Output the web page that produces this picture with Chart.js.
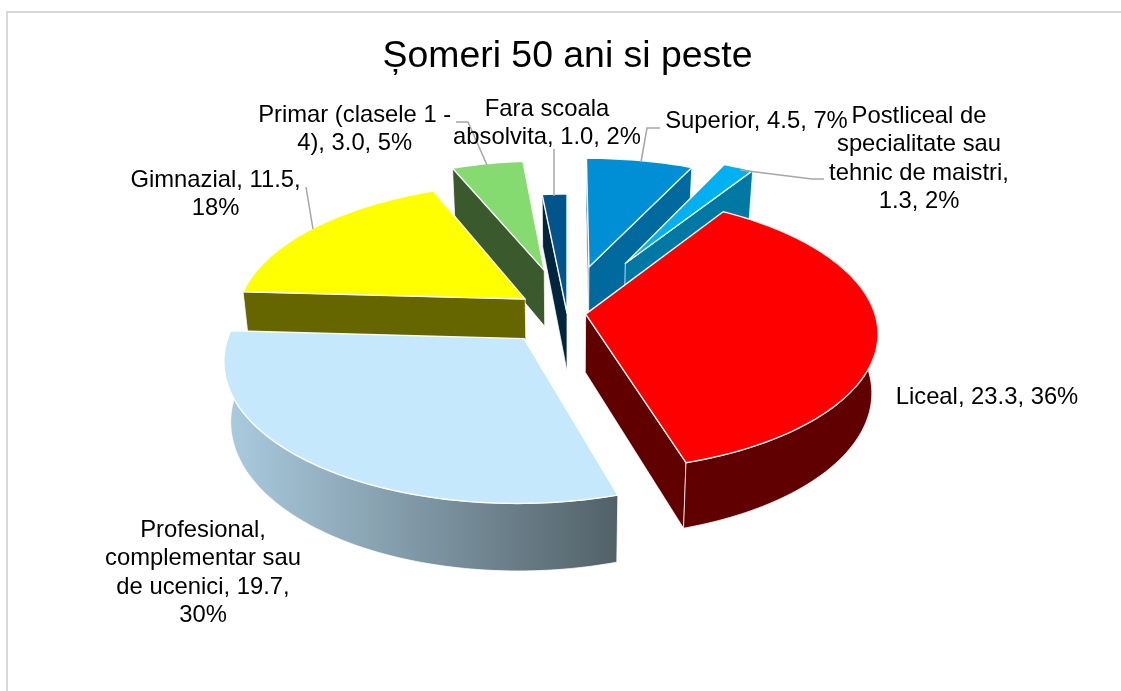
<!DOCTYPE html>
<html>
<head>
<meta charset="utf-8">
<script src="https://cdn.jsdelivr.net/npm/chart.js@4"></script>
<style>
html,body{margin:0;padding:0;background:#fff;overflow:hidden}
#wrap{position:absolute;left:0;top:0;width:1121px;height:691px}
#frame{position:absolute;left:6px;top:11px;width:1115px;height:680px;border-left:2px solid #d9d9d9;border-top:2px solid #d9d9d9;box-sizing:border-box}
canvas{position:absolute;left:0;top:0}
</style>
</head>
<body>
<div id="wrap"><div id="frame"></div><canvas id="c" width="1121" height="691"></canvas></div>
<script>
const titleText = "Șomeri 50 ani si peste";
const categories = ["Superior","Postliceal de specialitate sau tehnic de maistri","Liceal","Profesional, complementar sau de ucenici","Gimnazial","Primar (clasele 1 - 4)","Fara scoala absolvita"];
const values = [4.5,1.3,23.3,19.7,11.5,3.0,1.0];
const percents = [7,2,36,30,18,5,2];
const labelLines = [
  ["Superior, 4.5, 7%"],
  ["Postliceal de","specialitate sau","tehnic de maistri,","1.3, 2%"],
  ["Liceal, 23.3, 36%"],
  ["Profesional,","complementar sau","de ucenici, 19.7,","30%"],
  ["Gimnazial, 11.5,","18%"],
  ["Primar (clasele 1 -","4), 3.0, 5%"],
  ["Fara scoala","absolvita, 1.0, 2%"]
];
const explode = [36.5,44,6.5,23.5,18,34,0];
const topColors = ["#008FD5","#00B0F0","#FF0000","#C5E8FC","#FFFF00","#85DB70","#00568A"];
const wallColors = ["#006A9E","#0078A4","#600000",["#ABCCE0","#526168"],"#666600","#3A5A2D","#00263F"];
const labelPos = [[756.5,128],[919,123],[987,404],[203,537],[215.5,187],[354.7,122],[547,116]];
const lineHeight = 28.3;
const leaders = [
  [[660,128],[647,128],[641,162]],
  [[740,170],[812,179],[824,179]],
  null,
  null,
  [[306,187],[313,229]],
  [[456,122],[468,122],[487,165]],
  [[554,149],[554,196]]
];
const proj = {cx:567, cy:313, A:289, B:135, p:0.135, d0:58, d1:50, shrink:0.98};

function P(x,y,low){
  const s = 1/(1-proj.p*y);
  let X = proj.A*x*s, Y = proj.B*y*s;
  if(low){ X *= proj.shrink; Y += proj.d0+(s-1)*proj.d1; }
  return [proj.cx+X, proj.cy+Y];
}
const pie3d = {
  id:'pie3d',
  beforeDatasetDraw(chart){
    const ctx = chart.ctx, meta = chart.getDatasetMeta(0);
    const items = meta.data.map((el,i)=>{
      const a0 = el.startAngle, a1 = el.endAngle, mid=(a0+a1)/2;
      const e = (el.options.offset||0)/100;
      const ox = Math.cos(mid)*e, oy = Math.sin(mid)*e;
      const n = Math.max(3,Math.ceil((a1-a0)/0.02));
      const arc = [];
      for(let k=0;k<=n;k++){ const a=a0+(a1-a0)*k/n; arc.push([ox+Math.cos(a),oy+Math.sin(a),Math.sin(a)]); }
      return {i,ox,oy,arc,key:oy+Math.sin(mid)*0.6};
    }).sort((p,q)=>p.key-q.key);
    const poly = pts=>{ ctx.beginPath(); pts.forEach((p,k)=>k?ctx.lineTo(p[0],p[1]):ctx.moveTo(p[0],p[1])); ctx.closePath(); };
    ctx.save();
    ctx.lineJoin='round';
    items.forEach(it=>{
      const top = it.arc.map(p=>P(p[0],p[1],false));
      const low = it.arc.map(p=>P(p[0],p[1],true));
      const at = P(it.ox,it.oy,false), ab = P(it.ox,it.oy,true);
      let wall = wallColors[it.i];
      if(Array.isArray(wall)){
        const xs = top.map(p=>p[0]);
        const g = ctx.createLinearGradient(Math.min(...xs),0,Math.max(...xs),0);
        g.addColorStop(0,wall[0]); g.addColorStop(1,wall[1]); wall=g;
      }
      ctx.fillStyle = wall; ctx.strokeStyle='rgba(255,255,255,0.75)'; ctx.lineWidth=1;
      const e = top.length-1;
      if(top[0][0]<at[0]-0.5){ poly([at,ab,low[0],top[0]]); ctx.fill(); ctx.stroke(); }
      if(top[e][0]>at[0]+0.5){ poly([at,ab,low[e],top[e]]); ctx.fill(); ctx.stroke(); }
      const idx = it.arc.map((p,k)=>p[2]>-0.02?k:-1).filter(k=>k>=0);
      if(idx.length>1){
        const t = idx.map(k=>top[k]), b = idx.map(k=>low[k]).reverse();
        poly(t.concat(b)); ctx.fill(); ctx.stroke();
      }
      ctx.fillStyle = topColors[it.i]; ctx.strokeStyle='rgba(255,255,255,0.95)'; ctx.lineWidth=1.4;
      poly([at].concat(top)); ctx.fill(); ctx.stroke();
    });
    ctx.restore();
    return false;
  },
  afterDraw(chart){
    const ctx = chart.ctx;
    ctx.save();
    ctx.strokeStyle='#a6a6a6'; ctx.lineWidth=1.5;
    leaders.forEach(l=>{ if(!l) return; ctx.beginPath(); l.forEach((p,k)=>k?ctx.lineTo(p[0],p[1]):ctx.moveTo(p[0],p[1])); ctx.stroke(); });
    ctx.fillStyle='#000'; ctx.font='23.8px "Liberation Sans", Arial, sans-serif'; ctx.textAlign='center'; ctx.textBaseline='alphabetic';
    labelLines.forEach((lines,i)=>lines.forEach((t,k)=>ctx.fillText(t,labelPos[i][0],labelPos[i][1]+k*lineHeight)));
    ctx.restore();
  }
};
new Chart(document.getElementById('c'),{
  type:'pie',
  data:{labels:categories,datasets:[{data:values,backgroundColor:topColors,offset:explode}]},
  options:{
    responsive:false,animation:false,
    layout:{padding:{left:14}},
    plugins:{
      legend:{display:false},tooltip:{enabled:false},
      title:{display:true,text:titleText,color:'#000',font:{family:'"Liberation Sans", Arial, sans-serif',size:37.4,weight:'normal'},padding:{top:34,bottom:10}}
    }
  },
  plugins:[pie3d]
});
</script>
</body>
</html>
